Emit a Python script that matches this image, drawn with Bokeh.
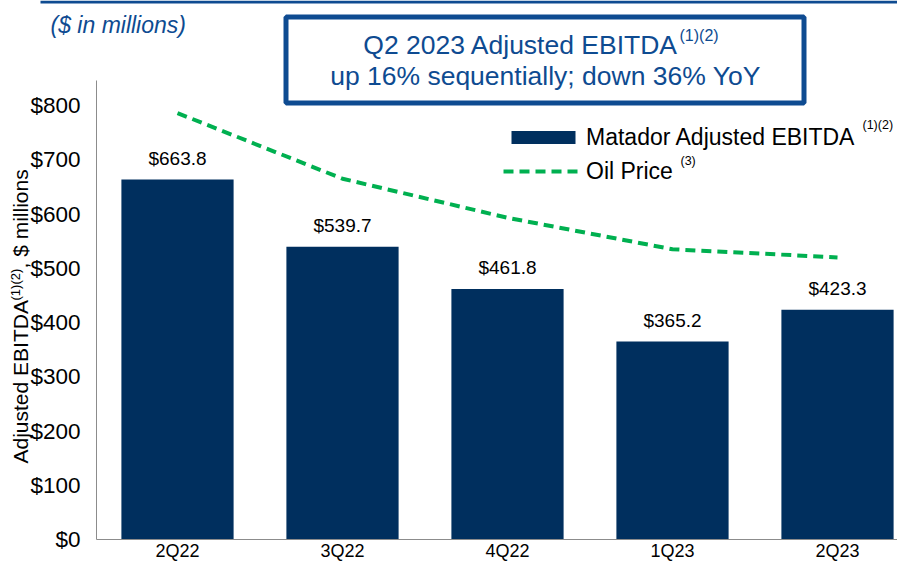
from bokeh.plotting import figure
from bokeh.models import (Range1d, FixedTicker, NumeralTickFormatter, ColumnDataSource,
                          LabelSet, Label, BoxAnnotation, Legend, LegendItem)
from bokeh.embed import file_html
from bokeh.resources import INLINE
from bokeh.core.properties import value

# ---------------- data ----------------
quarters = ["2Q22", "3Q22", "4Q22", "1Q23", "2Q23"]
ebitda = [663.8, 539.7, 461.8, 365.2, 423.3]
oil_price_on_axis = [786, 665, 593, 535, 520]   # dashed line, read on the EBITDA axis
y_ticks = [0, 100, 200, 300, 400, 500, 600, 700, 800]
bar_labels = ["$%.1f" % v for v in ebitda]

# ---------------- style ----------------
FONT = "Liberation Sans"
NAVY = "#002F5E"
GREEN = "#00B050"
BLUE = "#0E4B91"
AXIS_GRAY = "#8C8C8C"

W, H = 897, 563
Y0 = 539                         # pixel row of the value 0 (category axis)
PX_PER_UNIT = (Y0 - 105) / 800.0
CAT_PITCH, CAT0 = 165.0, 177.0   # pixel spacing / centre of first category
AXIS_X = 96                      # pixel position of the value axis
AXIS_TOP = 80                    # pixel where the value axis line ends


def sx(px):
    return px


def sy(py):
    return H - py


def xdata(px):
    return (px - CAT0) / CAT_PITCH


def ydata(py):
    return (Y0 - py) / PX_PER_UNIT


xs = list(range(len(quarters)))
src = ColumnDataSource(dict(x=xs, quarter=quarters, ebitda=ebitda,
                            label=bar_labels, oil=oil_price_on_axis))

p = figure(width=W, height=H, output_backend="svg", toolbar_location=None,
           x_range=Range1d(xdata(0), xdata(W)),
           y_range=Range1d(ydata(H), ydata(0)),
           min_border_left=0, min_border_right=0, min_border_top=0,
           min_border_bottom=0)

bars = p.vbar(x="x", top="ebitda", width=0.68, source=src,
              fill_color=NAVY, line_color=None)
oil = p.line(x="x", y="oil", source=src, line_color=GREEN, line_width=4,
             line_dash="10 6")

p.add_layout(LabelSet(x="x", y="ebitda", text="label", source=src, y_offset=21,
                      text_align="center", text_baseline="middle",
                      text_font=value(FONT), text_font_size="19px",
                      text_color="black"))

# axes
p.xgrid.visible = False
p.ygrid.visible = False
p.outline_line_color = None
p.yaxis.ticker = FixedTicker(ticks=y_ticks)
p.yaxis.formatter = NumeralTickFormatter(format="$0")
p.yaxis.fixed_location = xdata(AXIS_X)
p.yaxis.bounds = (0, ydata(AXIS_TOP))
p.xaxis.ticker = FixedTicker(ticks=xs)
p.xaxis.major_label_overrides = {i: q for i, q in zip(xs, quarters)}
p.xaxis.fixed_location = 0
p.xaxis.bounds = (xdata(AXIS_X), xdata(W))
for ax in (p.xaxis, p.yaxis):
    ax.axis_line_color = AXIS_GRAY
    ax.axis_line_width = 1
    ax.major_tick_line_color = None
    ax.minor_tick_line_color = None
    ax.major_tick_out = 0
    ax.major_tick_in = 0
    ax.major_label_text_font = FONT
    ax.major_label_text_color = "black"
p.yaxis.major_label_text_font_size = "22.5px"
p.yaxis.major_label_standoff = 16
p.xaxis.major_label_text_font_size = "18px"
p.xaxis.major_label_standoff = 1

# legend
legend = Legend(items=[LegendItem(label="Matador Adjusted EBITDA", renderers=[bars]),
                       LegendItem(label="Oil Price", renderers=[oil])],
                location=(sx(503), sy(184.5)), orientation="vertical",
                glyph_width=80, glyph_height=16, label_height=27, spacing=7,
                padding=0, margin=0, label_standoff=3,
                border_line_color=None, background_fill_alpha=0,
                label_text_font=FONT, label_text_font_size="23px",
                label_text_color="black")
p.add_layout(legend)


def add_label(text, px, py, size, color="black", align="left", style="normal",
              angle=0):
    p.add_layout(Label(x=sx(px), y=sy(py), x_units="screen", y_units="screen",
                       text=text, text_font=FONT, text_font_size=size,
                       text_color=color, text_align=align,
                       text_baseline="middle", text_font_style=style,
                       angle=angle, angle_units="deg"))


def add_box(left, right, top, bottom, **kw):
    p.add_layout(BoxAnnotation(left=sx(left), right=sx(right), top=sy(top),
                               bottom=sy(bottom), left_units="screen",
                               right_units="screen", top_units="screen",
                               bottom_units="screen", **kw))


# legend superscripts
add_label("(1)(2)", 862, 124, "12.5px")
add_label("(3)", 680, 160, "12.5px")

# slide underline at the very top
add_box(40, W, 0, 3, fill_color=BLUE, fill_alpha=1, line_color=None)

# title box
add_box(285.5, 803.5, 16.5, 102.5, line_color=BLUE, line_alpha=1,
        line_width=5, fill_color="white", fill_alpha=0)
add_label("Q2 2023 Adjusted EBITDA", 678, 44, "26.5px", BLUE, align="right")
add_label("(1)(2)", 679, 35, "16px", BLUE)
add_label("up 16% sequentially; down 36% YoY", 545, 75, "26.5px", BLUE,
          align="center")

# subtitle
add_label("($ in millions)", 50, 24, "23px", BLUE, style="italic")

# y-axis title (rotated, with superscript)
add_label("Adjusted EBITDA", 20, 463, "21px", angle=90)
add_label("(1)(2)", 15, 300, "13px", angle=90)
add_label(", $ millions", 20, 268, "21px", angle=90)

open("out.html", "w").write(file_html(p, INLINE))
